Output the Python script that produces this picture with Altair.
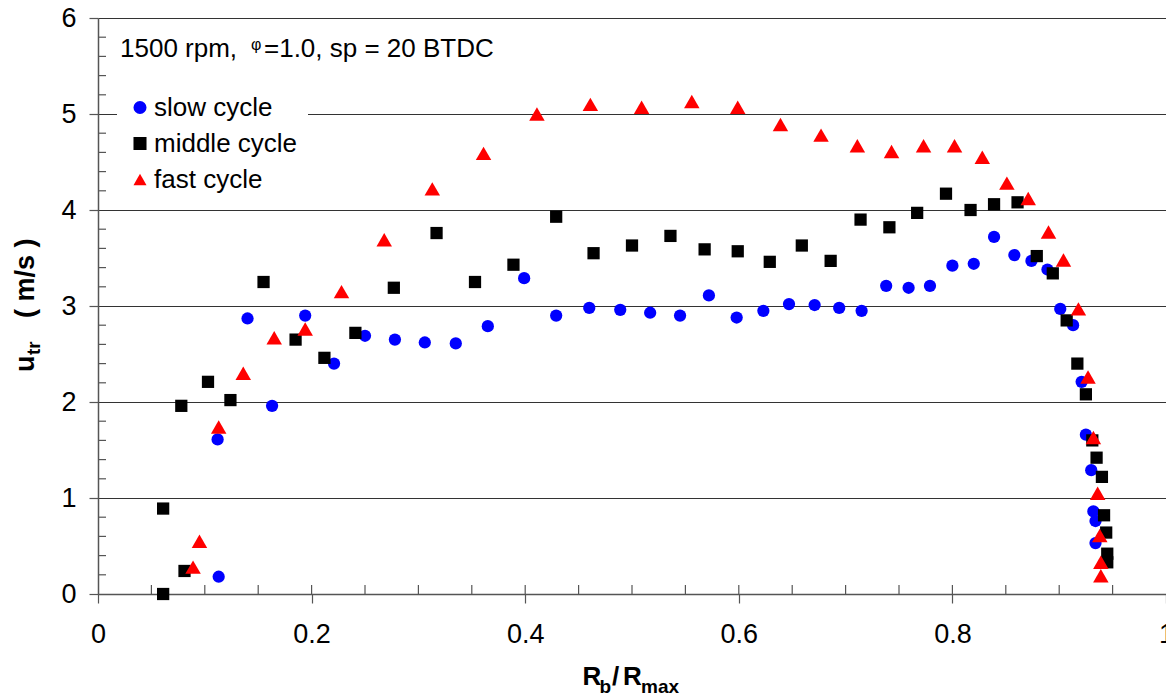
import altair as alt
import pandas as pd

# ---------------- data ----------------
cycles = ["slow cycle", "middle cycle", "fast cycle"]
colors = ["#0000ff", "#000000", "#ff0000"]
shapes = ["circle", "square", "triangle-up"]
sizes = [150, 150, 240]

slow_x = [0.113, 0.112, 0.140, 0.163, 0.194, 0.221, 0.250, 0.278, 0.306, 0.335,
          0.365, 0.399, 0.429, 0.460, 0.489, 0.517, 0.545, 0.572, 0.598, 0.623,
          0.647, 0.671, 0.694, 0.715, 0.738, 0.759, 0.779, 0.800, 0.820, 0.839,
          0.858, 0.874, 0.889, 0.901, 0.913, 0.921, 0.925, 0.930, 0.932, 0.934,
          0.934]
slow_y = [0.18, 1.61, 2.87, 1.96, 2.90, 2.40, 2.69, 2.65, 2.62, 2.61,
          2.79, 3.29, 2.90, 2.98, 2.96, 2.93, 2.90, 3.11, 2.88, 2.95,
          3.02, 3.01, 2.98, 2.95, 3.21, 3.19, 3.21, 3.42, 3.44, 3.72,
          3.53, 3.47, 3.38, 2.97, 2.80, 2.21, 1.66, 1.29, 0.86, 0.76,
          0.53]

mid_x = [0.061, 0.061, 0.081, 0.078, 0.103, 0.124, 0.155, 0.185, 0.212, 0.241,
         0.277, 0.317, 0.353, 0.389, 0.429, 0.464, 0.500, 0.536, 0.568, 0.599,
         0.629, 0.659, 0.686, 0.714, 0.741, 0.767, 0.794, 0.817, 0.839, 0.861,
         0.879, 0.894, 0.907, 0.917, 0.925, 0.931, 0.935, 0.940, 0.942, 0.944,
         0.945, 0.945]
mid_y = [0.89, 0.00, 0.24, 1.96, 2.21, 2.02, 3.25, 2.65, 2.46, 2.72,
         3.19, 3.76, 3.25, 3.43, 3.93, 3.55, 3.63, 3.73, 3.59, 3.57,
         3.46, 3.63, 3.47, 3.90, 3.82, 3.97, 4.17, 4.00, 4.06, 4.08,
         3.52, 3.34, 2.85, 2.40, 2.08, 1.60, 1.42, 1.22, 0.82, 0.64,
         0.42, 0.33]

fast_x = [0.089, 0.095, 0.113, 0.136, 0.165, 0.194, 0.228, 0.268, 0.313, 0.361,
          0.411, 0.461, 0.509, 0.556, 0.599, 0.639, 0.677, 0.711, 0.743, 0.773,
          0.802, 0.828, 0.851, 0.871, 0.890, 0.904, 0.918, 0.927, 0.932, 0.936,
          0.938, 0.939, 0.939]
fast_y = [0.28, 0.55, 1.74, 2.30, 2.67, 2.76, 3.15, 3.69, 4.22, 4.59,
          5.00, 5.10, 5.07, 5.13, 5.07, 4.89, 4.78, 4.67, 4.61, 4.67,
          4.67, 4.55, 4.28, 4.12, 3.77, 3.48, 2.97, 2.26, 1.63, 1.05,
          0.61, 0.33, 0.19]

x_ticks = [0, 0.2, 0.4, 0.6, 0.8, 1.0]
y_ticks = [0, 1, 2, 3, 4, 5, 6]
x_minor = [0.05, 0.1, 0.15, 0.2, 0.25, 0.3, 0.35, 0.4, 0.45, 0.5,
           0.55, 0.6, 0.65, 0.7, 0.75, 0.8, 0.85, 0.9, 0.95]
y_minor = [0.2, 0.4, 0.6, 0.8, 1.2, 1.4, 1.6, 1.8, 2.2, 2.4, 2.6, 2.8,
           3.2, 3.4, 3.6, 3.8, 4.2, 4.4, 4.6, 4.8, 5.2, 5.4, 5.6, 5.8]

# ---------------- layout ----------------
W, H = 1068, 576
FONT = "Liberation Sans"

df = pd.concat([
    pd.DataFrame({"cycle": cycles[0], "x": slow_x, "y": slow_y}),
    pd.DataFrame({"cycle": cycles[1], "x": mid_x, "y": mid_y}),
    pd.DataFrame({"cycle": cycles[2], "x": fast_x, "y": fast_y}),
], ignore_index=True)

xscale = alt.Scale(domain=[0, 1], nice=False, zero=False)
yscale = alt.Scale(domain=[0, 6], nice=False)

legend = alt.Legend(
    title=None, orient="none", legendX=19, legendY=66.5,
    fillColor="white", padding=10, labelFont=FONT, labelFontSize=26,
    labelColor="black", symbolSize=170, symbolStrokeWidth=0,
    rowPadding=10, labelOffset=1, symbolOpacity=1,
)

xenc = alt.X("x:Q", scale=xscale, axis=alt.Axis(
    values=x_ticks, format=".1~f", title="", grid=False, labelFlush=False,
    tickSize=9, labelPadding=18, labelFontSize=27, labelFont=FONT,
    labelColor="black", domainColor="#555555", tickColor="#555555",
    domainWidth=1.5, tickWidth=1.2))
yenc = alt.Y("y:Q", scale=yscale, axis=alt.Axis(
    values=y_ticks, format="d", title="", grid=True, gridColor="#333333",
    gridWidth=1.2, tickSize=9, labelPadding=13, labelFontSize=27,
    labelFont=FONT, labelColor="black", domainColor="#555555",
    tickColor="#555555", domainWidth=1.5, tickWidth=1.2))
cenc = alt.Color("cycle:N", scale=alt.Scale(domain=cycles, range=colors), legend=legend)
senc = alt.Shape("cycle:N", scale=alt.Scale(domain=cycles, range=shapes), legend=legend)

point_layers = [
    alt.Chart(df).transform_filter(alt.datum.cycle == c).mark_point(
        filled=True, opacity=1, size=s).encode(x=xenc, y=yenc, color=cenc, shape=senc)
    for c, s in zip(cycles, sizes)
]

yminor = alt.Chart(pd.DataFrame({"y": y_minor})).mark_rule(
    color="#555555", strokeWidth=1.2).encode(
    y=alt.Y("y:Q", scale=yscale), x=alt.value(0), x2=alt.value(8))

xminor = alt.Chart(pd.DataFrame({"x": x_minor})).mark_rule(
    color="#555555", strokeWidth=1.2).encode(
    x=alt.X("x:Q", scale=xscale), y=alt.value(H - 9), y2=alt.value(H))


def txt(s, px, py, size, weight="normal", angle=0):
    return alt.Chart(pd.DataFrame({"t": [s]})).mark_text(
        align="left", baseline="alphabetic", font=FONT, fontSize=size,
        fontWeight=weight, color="black", angle=angle,
    ).encode(x=alt.value(px), y=alt.value(py), text="t:N")


texts = [
    txt("1500 rpm,", 22, 39, 26),
    txt("φ", 153, 32, 16),
    txt("=1.0, sp = 20 BTDC", 166, 39, 26),
    # x title R_b/R_max
    txt("R", 484.5, 667, 26, "bold"),
    txt("b", 501.5, 675, 19, "bold"),
    txt("/", 514, 667, 26, "bold"),
    txt("R", 525, 667, 26, "bold"),
    txt("max", 543, 675, 19, "bold"),
    # y title u_tr ( m/s )
    txt("u", -64, 354, 27, "bold", 270),
    txt("tr", -58, 337, 19, "bold", 270),
    txt("( m/s )", -64, 300, 27, "bold", 270),
]

chart = alt.layer(yminor, xminor, *point_layers, *texts).properties(
    width=W, height=H,
    autosize=alt.AutoSizeParams(type="none"),
    padding={"left": 98, "top": 18, "right": 0, "bottom": 102},
).configure(font=FONT).configure_view(stroke="transparent")

chart.save("out.html", embed_options={"renderer": "svg", "actions": False})
